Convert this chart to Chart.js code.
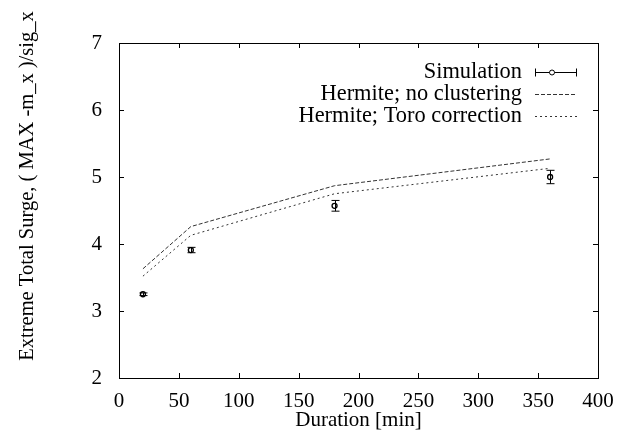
<!DOCTYPE html>
<html>
<head>
<meta charset="utf-8">
<script src="https://cdn.jsdelivr.net/npm/chart.js@4/dist/chart.umd.min.js"></script>
<style>
  body { margin: 0; background: #fff; }
  #wrap { width: 618px; height: 434px; }
</style>
</head>
<body>
<div id="wrap"><canvas id="c" width="618" height="434"></canvas></div>
<script>
// values
var durations = [20, 60, 180, 360];
var simulation = [3.25, 3.91, 4.57, 5.0];
var simError = [0.02, 0.04, 0.08, 0.1];
var hermiteNoClust = [3.63, 4.26, 4.87, 5.27];
var hermiteToro = [3.52, 4.13, 4.75, 5.13];
var yTitle = 'Extreme Total Surge, ( MAX -m_x )/sig_x';

var FONT = "'Liberation Serif', 'DejaVu Serif', serif";

function pts(vals) {
    var out = [];
    for (var i in durations) out.push({x: durations[i], y: vals[i]});
    return out;
}

// gnuplot style frame with inward ticks on all four sides
var framePlugin = {
    id: 'frame',
    afterDraw: function(chart) {
        var ctx = chart.ctx, a = chart.chartArea;
        var xs = chart.scales.x, ys = chart.scales.y;
        ctx.save();
        ctx.strokeStyle = '#000';
        ctx.lineWidth = 1;
        ctx.strokeRect(Math.round(a.left) + 0.5, Math.round(a.top) + 0.5,
                       Math.round(a.right - a.left), Math.round(a.bottom - a.top));
        ctx.beginPath();
        xs.ticks.forEach(function(t) {
            var px = Math.round(xs.getPixelForValue(t.value)) + 0.5;
            ctx.moveTo(px, a.bottom); ctx.lineTo(px, a.bottom - 5);
            ctx.moveTo(px, a.top); ctx.lineTo(px, a.top + 5);
        });
        ys.ticks.forEach(function(t) {
            var py = Math.round(ys.getPixelForValue(t.value)) + 0.5;
            ctx.moveTo(a.left, py); ctx.lineTo(a.left + 5, py);
            ctx.moveTo(a.right, py); ctx.lineTo(a.right - 5, py);
        });
        ctx.stroke();
        // y axis title, placed like gnuplot does
        ctx.translate(28, 186);
        ctx.rotate(-Math.PI / 2);
        ctx.font = '20.5px ' + FONT;
        ctx.fillStyle = '#000';
        ctx.textAlign = 'center';
        ctx.textBaseline = 'middle';
        ctx.fillText(yTitle, 0, 0);
        ctx.restore();
    }
};

// error bars for the simulation points
var errorPlugin = {
    id: 'errbars',
    afterDatasetsDraw: function(chart) {
        var ctx = chart.ctx, xs = chart.scales.x, ys = chart.scales.y;
        ctx.save();
        ctx.strokeStyle = '#000';
        ctx.lineWidth = 1;
        ctx.beginPath();
        for (var i = 0; i < durations.length; i++) {
            var px = Math.round(xs.getPixelForValue(durations[i])) + 0.5;
            var y1 = ys.getPixelForValue(simulation[i] - simError[i]);
            var y2 = ys.getPixelForValue(simulation[i] + simError[i]);
            ctx.moveTo(px, y1); ctx.lineTo(px, y2);
            ctx.moveTo(px - 4, y1); ctx.lineTo(px + 4, y1);
            ctx.moveTo(px - 4, y2); ctx.lineTo(px + 4, y2);
        }
        ctx.stroke();
        ctx.restore();
    }
};

// legend drawn like gnuplot: right aligned text, sample on the right
var keyPlugin = {
    id: 'key',
    afterDraw: function(chart) {
        var ctx = chart.ctx;
        var textRight = 522, s0 = 535, s1 = 577, y0 = 72, dy = 22;
        ctx.save();
        ctx.font = '22.4px ' + FONT;
        ctx.fillStyle = '#000';
        ctx.textAlign = 'right';
        ctx.textBaseline = 'middle';
        chart.data.datasets.forEach(function(ds, i) {
            var y = y0 + i * dy;
            ctx.fillText(ds.label, textRight, y);
            var yy = Math.round(y) + 0.5;
            ctx.strokeStyle = ds.borderColor;
            ctx.lineWidth = 1;
            ctx.setLineDash(ds.borderDash || []);
            ctx.beginPath();
            ctx.moveTo(s0, yy); ctx.lineTo(s1, yy);
            ctx.stroke();
            ctx.setLineDash([]);
            if (i === 0) {
                ctx.strokeStyle = '#000';
                ctx.beginPath();
                ctx.moveTo(s0 + 0.5, yy - 4); ctx.lineTo(s0 + 0.5, yy + 4);
                ctx.moveTo(s1 - 0.5, yy - 4); ctx.lineTo(s1 - 0.5, yy + 4);
                ctx.stroke();
                ctx.fillStyle = '#fff';
                ctx.beginPath();
                ctx.arc(552, yy, 2.5, 0, Math.PI * 2);
                ctx.fill();
                ctx.stroke();
                ctx.fillStyle = '#000';
            }
        });
        ctx.restore();
    }
};

new Chart(document.getElementById('c'), {
    type: 'scatter',
    data: {
        datasets: [
            {
                label: 'Simulation',
                data: pts(simulation),
                showLine: false,
                pointStyle: 'circle',
                pointRadius: 2.5,
                pointBorderWidth: 1.3,
                pointBackgroundColor: '#fff',
                pointBorderColor: '#000',
                borderColor: '#000'
            },
            {
                label: 'Hermite; no clustering',
                data: pts(hermiteNoClust),
                showLine: true,
                pointRadius: 0,
                borderWidth: 1,
                borderColor: '#333',
                borderDash: [4, 2]
            },
            {
                label: 'Hermite; Toro correction',
                data: pts(hermiteToro),
                showLine: true,
                pointRadius: 0,
                borderWidth: 1,
                borderColor: '#333',
                borderDash: [2, 3]
            }
        ]
    },
    options: {
        responsive: false,
        animation: false,
        layout: { padding: { top: 43, right: 20, left: 0, bottom: 1 } },
        plugins: {
            legend: { display: false },
            tooltip: { enabled: false }
        },
        scales: {
            x: {
                type: 'linear',
                min: 0, max: 400,
                afterFit: function(s) {
                    s.height = 434 - 378 - 1;
                    s.paddingLeft = 0;
                    s.paddingRight = 0;
                },
                grid: { display: false, drawTicks: false },
                border: { display: false },
                ticks: { stepSize: 50, color: '#000', padding: 11, maxRotation: 0,
                         font: { family: FONT, size: 21 } },
                title: { display: true, text: 'Duration [min]', color: '#000', padding: { top: 0, bottom: 0 },
                         font: { family: FONT, size: 21 } }
            },
            y: {
                min: 2, max: 7,
                afterFit: function(s) { s.width = 119; },
                grid: { display: false, drawTicks: false },
                border: { display: false },
                ticks: { stepSize: 1, color: '#000', padding: 17, font: { family: FONT, size: 21 } }
            }
        }
    },
    plugins: [framePlugin, errorPlugin, keyPlugin]
});
</script>
</body>
</html>
